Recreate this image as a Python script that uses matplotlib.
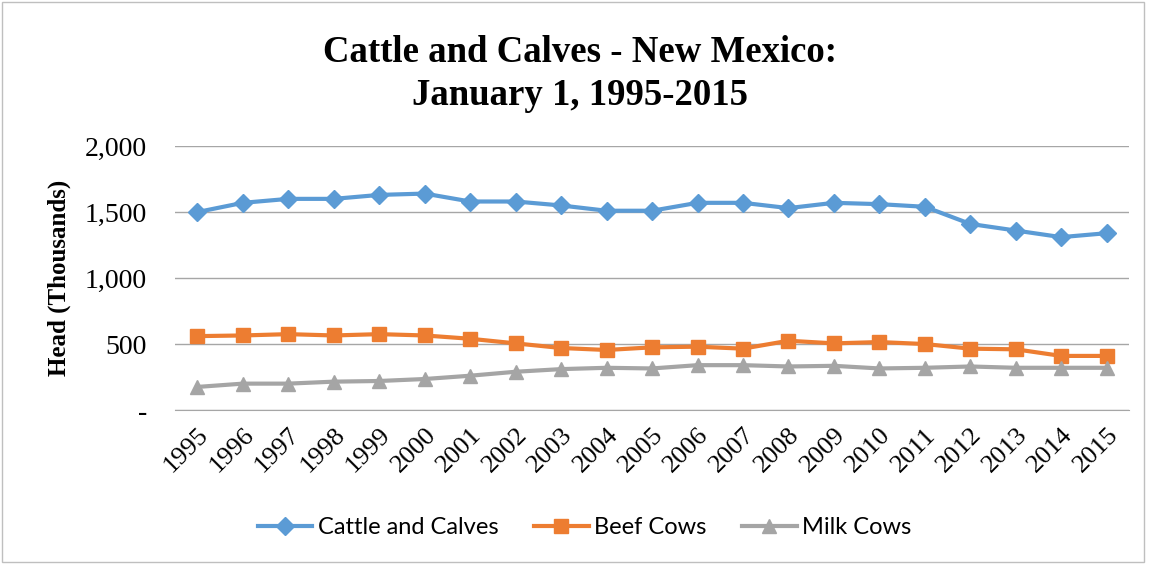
# Import libraries
import matplotlib.pyplot as plt
from matplotlib.patches import Rectangle
from matplotlib.ticker import FuncFormatter

# Data (thousand head, January 1)
years = list(range(1995, 2016))
cattle_calves = [1500, 1570, 1600, 1600, 1630, 1640, 1580, 1580, 1550, 1510, 1510,
                 1570, 1570, 1530, 1570, 1560, 1540, 1410, 1360, 1310, 1340]
beef_cows = [560, 565, 575, 565, 575, 565, 540, 505, 470, 455, 475,
             480, 465, 525, 505, 515, 500, 465, 460, 410, 410]
milk_cows = [175, 200, 200, 215, 220, 235, 260, 290, 310, 320, 315,
             340, 340, 330, 335, 315, 320, 330, 320, 320, 320]

serif = ['Liberation Serif', 'DejaVu Serif']
sans = ['Lato', 'DejaVu Sans']

fig = plt.figure(figsize=(11.49, 5.64), dpi=100)
ax = fig.add_axes([0.152, 0.273, 0.831, 0.468])

# Plot each series
ax.plot(years, cattle_calves, color='#5B9BD5', lw=3, marker='D', ms=9.5,
        label='Cattle and Calves', zorder=3)
ax.plot(years, beef_cows, color='#ED7D31', lw=3, marker='s', ms=10,
        label='Beef Cows', zorder=3)
ax.plot(years, milk_cows, color='#A5A5A5', lw=3, marker='^', ms=10.5,
        label='Milk Cows', zorder=3)

# Axes styling
ax.set_xlim(1994.5, 2015.5)
ax.set_ylim(0, 2000)
ax.set_yticks([0, 500, 1000, 1500, 2000])
ax.yaxis.set_major_formatter(FuncFormatter(lambda v, p: '-' if v == 0 else f'{v:,.0f}'))
ax.set_xticks(years)
ax.set_xticklabels([str(y) for y in years], rotation=45, ha='right',
                   rotation_mode='anchor', family=serif, fontsize=19)
for lbl in ax.get_yticklabels():
    lbl.set_family(serif)
    lbl.set_fontsize(20)
ax.tick_params(length=0, pad=10)
ax.tick_params(axis='y', pad=20)
ax.grid(axis='y', color='#A6A6A6', lw=1)
ax.set_axisbelow(True)
for s in ['top', 'right', 'left']:
    ax.spines[s].set_visible(False)
ax.spines['bottom'].set_color('#A6A6A6')

ax.set_ylabel('Head (Thousands)', family=serif, fontsize=18, fontweight='bold',
              labelpad=10)
fig.text(0.505, 0.868, 'Cattle and Calves - New Mexico:\nJanuary 1, 1995-2015',
         ha='center', va='center', family=serif, fontsize=26.5, fontweight='bold',
         linespacing=1.3)

leg = fig.legend(loc='center', bbox_to_anchor=(0.509, 0.064), ncol=3, frameon=False,
                 prop={'family': sans, 'size': 17}, handlelength=2.3,
                 columnspacing=1.5, handletextpad=0.25)

# Outer chart border
fig.patches.append(Rectangle((0.002, 0.004), 0.994, 0.993, transform=fig.transFigure,
                             fill=False, edgecolor='#BFBFBF', lw=1))

fig.savefig('out.png', dpi=100)
